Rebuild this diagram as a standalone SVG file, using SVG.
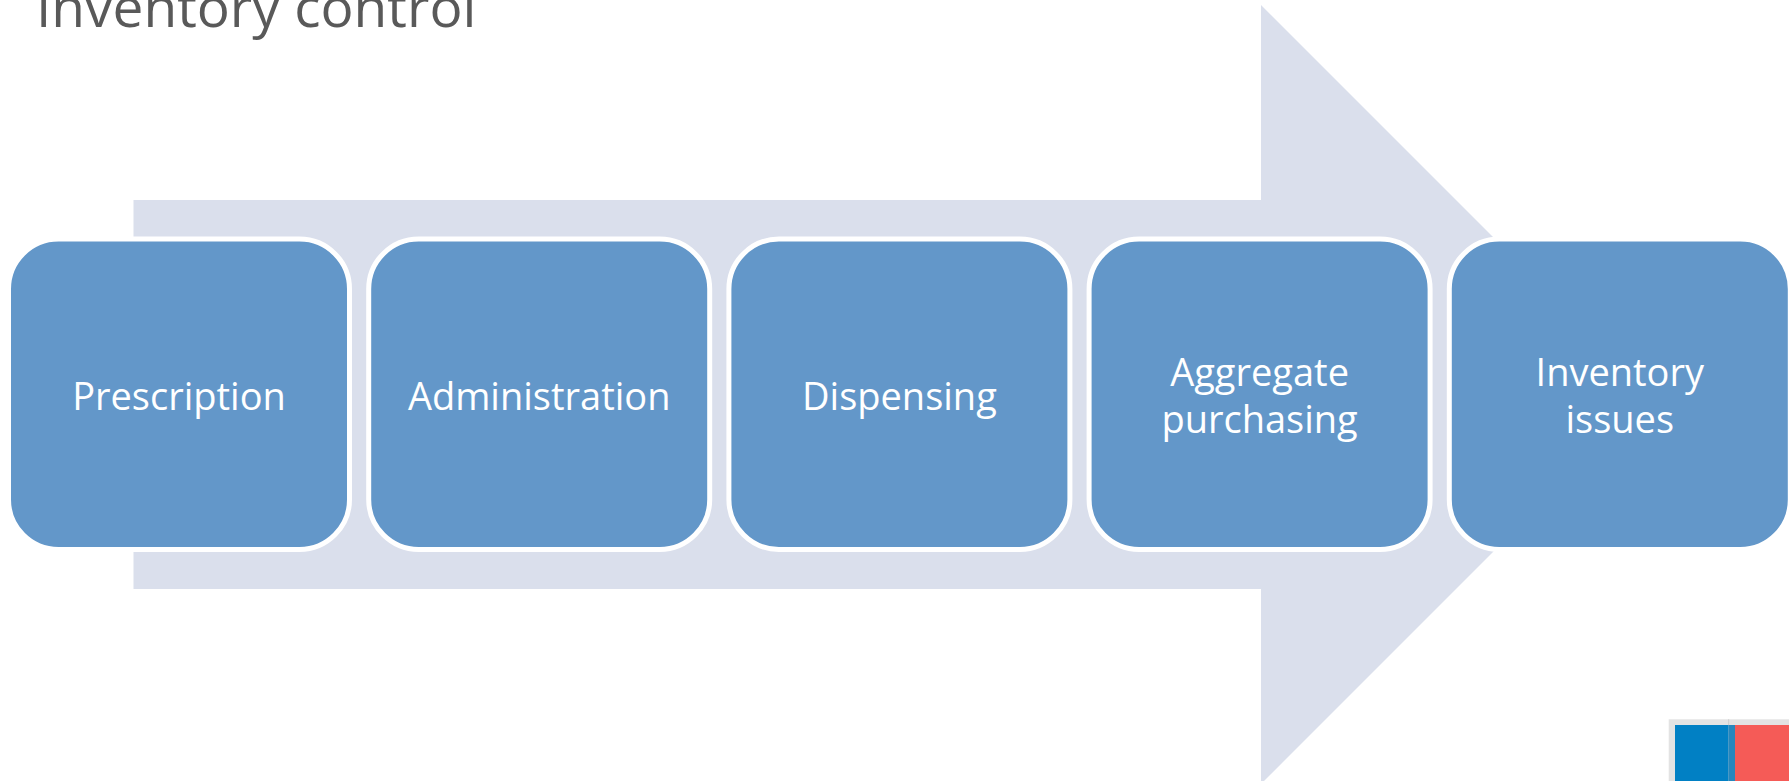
<svg xmlns="http://www.w3.org/2000/svg" width="1789" height="781" viewBox="0 0 1789 781">
<style>
.box{fill:#6397c9;stroke:#ffffff;stroke-width:5}
.lbl{font-family:"Open Sans","DejaVu Sans",sans-serif;font-size:38px;fill:#ffffff;text-anchor:middle}
.title{font-family:"Open Sans","DejaVu Sans",sans-serif;font-size:55px;fill:#595959}
</style>
<rect width="1789" height="781" fill="#ffffff"/>
<text class="title" x="36" y="27">Inventory control</text>
<g id="arrow">
<polygon points="133.5,200 1261,200 1261,5 1650.5,394.5 1261,784 1261,589 133.5,589" fill="#dadfec"/>
</g>
<g id="connectors"></g>
<g id="n1"><rect class="box" x="8.5" y="239" width="341" height="310.5" rx="50"/><text class="lbl" x="179" y="410">Prescription</text></g>
<g id="n2"><rect class="box" x="368.7" y="239" width="341" height="310.5" rx="50"/><text class="lbl" x="539.2" y="410">Administration</text></g>
<g id="n3"><rect class="box" x="728.9" y="239" width="341" height="310.5" rx="50"/><text class="lbl" x="899.4" y="410">Dispensing</text></g>
<g id="n4"><rect class="box" x="1089.1" y="239" width="341" height="310.5" rx="50"/><text class="lbl" x="1259.6" y="386">Aggregate</text><text class="lbl" x="1259.6" y="433">purchasing</text></g>
<g id="n5"><rect class="box" x="1449.3" y="239" width="341" height="310.5" rx="50"/><text class="lbl" x="1619.8" y="386">Inventory</text><text class="lbl" x="1619.8" y="433">issues</text></g>
<g id="logo">
<rect x="1668.7" y="719.3" width="121" height="62" fill="#e3e3e3"/>
<rect x="1728" y="719.3" width="1.2" height="6" fill="#d0d0d0"/>
<rect x="1675" y="725" width="53.3" height="56" fill="#0180c4"/>
<rect x="1728.3" y="725" width="6.7" height="56" fill="#2787bd"/>
<rect x="1735" y="725" width="54" height="56" fill="#f55b57"/>
</g>
</svg>
